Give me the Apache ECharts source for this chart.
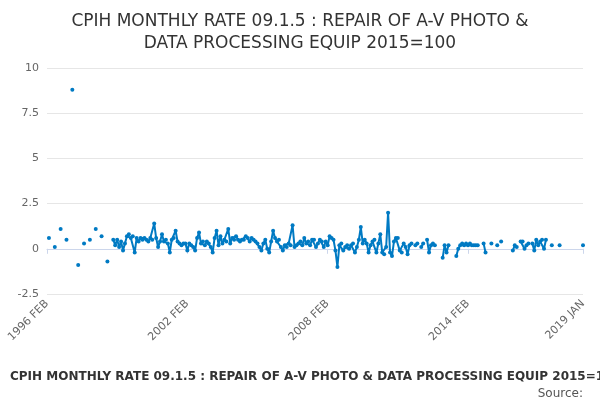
<!DOCTYPE html>
<html>
<head>
<meta charset="utf-8">
<script src="https://cdn.jsdelivr.net/npm/echarts@6/dist/echarts.min.js"></script>
<style>html,body{margin:0;padding:0;background:#fff}</style>
</head>
<body>
<div id="main" style="width:600px;height:400px"></div>
<script>
var monthNames = ['JAN','FEB','MAR','APR','MAY','JUN','JUL','AUG','SEP','OCT','NOV','DEC'];
var shownLabels = ['1996 FEB', '2002 FEB', '2008 FEB', '2014 FEB', '2019 JAN'];
var y1996 = [null,0.6,null,null,0.1,null,null,1.1,null,null,0.5];
var y1997 = [null,null,8.8,null,null,-0.9,null,null,0.3,null,null,0.5];
var y1998 = [null,null,1.1,null,null,0.7,null,null,-0.7,null,null,0.5];
var y1999 = [0.2,0.5,0.1,0.4,-0.1,0.3,0.7,0.8,0.6,0.7,-0.2,0.6];
var y2000 = [0.4,0.6,0.5,0.6,0.5,0.4,0.6,0.5,1.4,0.6,0.1,0.4];
var y2001 = [0.8,0.4,0.5,0.3,-0.2,0.5,0.6,1.0,0.4,0.3,0.2,0.3];
var y2002 = [0.3,-0.1,0.3,0.2,0.1,-0.1,0.6,0.9,0.3,0.4,0.2,0.4];
var y2003 = [0.3,0.1,-0.2,0.6,1.0,0.2,0.7,0.3,0.5,0.4,1.1,0.3];
var y2004 = [0.6,0.5,0.7,0.5,0.4,0.5,0.5,0.7,0.6,0.4,0.6,0.5];
var y2005 = [0.4,0.3,0.1,-0.1,0.3,0.5,0.0,-0.2,0.4,1.0,0.6,0.4];
var y2006 = [0.5,0.1,-0.1,0.2,0.1,0.3,0.2,1.3,0.1,0.2,0.3,0.4];
var y2007 = [0.2,0.6,0.3,0.4,0.2,0.5,0.5,0.1,0.3,0.5,0.4,0.1];
var y2008 = [0.4,0.2,0.7,0.6,0.5,-0.1,-1.0,0.2,0.3,-0.1,0.1,0.2];
var y2009 = [0.0,0.2,0.3,-0.2,0.1,0.5,1.2,0.3,0.5,0.3,-0.2,0.2];
var y2010 = [0.4,0.5,-0.2,0.3,0.8,-0.2,-0.3,0.1,2.0,-0.2,-0.4,0.4];
var y2011 = [0.6,0.6,-0.1,-0.2,0.3,0.1,-0.3,0.2,0.3,null,0.2,0.3];
var y2012 = [null,0.1,0.3,null,0.5,-0.2,0.2,0.3,0.2,null,null,null];
var y2013 = [-0.5,0.2,-0.2,0.2,null,null,null,-0.4,0.0,0.2,0.3,0.2];
var y2014 = [0.3,0.2,0.3,0.2,0.2,0.2,0.2,null,null,0.3,-0.2,null];
var y2015 = [null,0.3,null,null,0.2,null,0.4,null,null,null,null,null];
var y2016 = [-0.1,0.2,0.1,null,0.4,0.4,0.0,0.2,0.3,null,0.3,-0.1];
var y2017 = [0.5,0.2,0.4,0.5,0.0,0.5,null,null,0.2,null,null,null];
var y2018 = [0.2,null,null,null,null,null,null,null,null,null,null,null];
var y2019 = [0.2];

var values = [].concat(y1996,y1997,y1998,y1999,y2000,y2001,y2002,y2003,y2004,y2005,y2006,y2007,
  y2008,y2009,y2010,y2011,y2012,y2013,y2014,y2015,y2016,y2017,y2018,y2019);
var months = [];
for (var i = 0; i < values.length; i++) {
  var mi = 1 + i;
  months.push((1996 + Math.floor(mi / 12)) + ' ' + monthNames[mi % 12]);
}
var labelIdx = function (idx, val) { return shownLabels.indexOf(val) >= 0; };

var chart = echarts.init(document.getElementById('main'));
chart.setOption({
  animation: false,
  title: [{
    text: 'CPIH MONTHLY RATE 09.1.5 : REPAIR OF A-V PHOTO &\nDATA PROCESSING EQUIP 2015=100',
    left: 'center', top: 6,
    textStyle: { fontFamily: 'DejaVu Sans', fontSize: 17, fontWeight: 'normal', color: '#333', lineHeight: 22 }
  }, {
    text: 'CPIH MONTHLY RATE 09.1.5 : REPAIR OF A-V PHOTO & DATA PROCESSING EQUIP 2015=100',
    left: 5, top: 366,
    textStyle: { fontFamily: 'DejaVu Sans', fontSize: 12, fontWeight: 'bold', color: '#333' }
  }, {
    text: 'Source:',
    right: 12, top: 383,
    textStyle: { fontFamily: 'DejaVu Sans', fontSize: 12, fontWeight: 'normal', color: '#555' }
  }],
  grid: { left: 47, right: 17, top: 68, bottom: 106 },
  xAxis: {
    type: 'category', data: months, boundaryGap: false,
    axisLine: { lineStyle: { color: '#ccd6eb' } },
    axisTick: { interval: labelIdx, lineStyle: { color: '#ccd6eb' } },
    axisLabel: { interval: labelIdx, rotate: 45, color: '#666', fontSize: 11, fontFamily: 'DejaVu Sans', showMaxLabel: true },
    splitLine: { show: false }
  },
  yAxis: {
    type: 'value', min: -2.5, max: 10, interval: 2.5,
    axisLine: { show: false }, axisTick: { show: false },
    axisLabel: { color: '#666', fontSize: 11, fontFamily: 'DejaVu Sans' },
    splitLine: { lineStyle: { color: '#e6e6e6' } }
  },
  series: [{
    type: 'line', data: values, connectNulls: false,
    symbol: 'circle', symbolSize: 4, showAllSymbol: true,
    itemStyle: { color: '#007ac3' },
    lineStyle: { color: '#007ac3', width: 2 }
  }]
});
</script>
</body>
</html>
